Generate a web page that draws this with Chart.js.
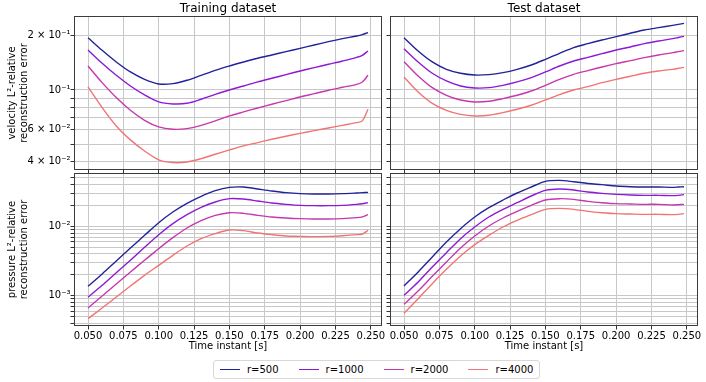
<!DOCTYPE html>
<html>
<head>
<meta charset="utf-8">
<script src="https://cdn.jsdelivr.net/npm/chart.js@4.4.1/dist/chart.umd.min.js"></script>
<style>
  html, body { margin: 0; padding: 0; background: #fff; }
  #fig { position: relative; width: 706px; height: 382px; font-family: 'DejaVu Sans', sans-serif; }
  #fig canvas { position: absolute; left: 0; top: 0; }
  #legend {
    position: absolute; left: 213px; top: 360px; height: 19px; box-sizing: border-box;
    padding: 0 6px; border: 1px solid #d8d8d8; border-radius: 3px; background: #fff;
    display: flex; align-items: center; font-size: 10px; color: #000;
  }
  .legend-item { display: flex; align-items: center; margin-right: 20px; }
  .legend-item:last-child { margin-right: 0; }
  .legend-line { width: 20px; height: 0; border-top: 1.5px solid; margin-right: 7px; }
</style>
</head>
<body>
<div id="fig">
  <canvas id="velTrain" width="706" height="382"></canvas>
  <canvas id="velTest" width="706" height="382"></canvas>
  <canvas id="presTrain" width="706" height="382"></canvas>
  <canvas id="presTest" width="706" height="382"></canvas>
  <div id="legend"></div>
</div>
<script>
// time instants [s]
const timeSteps = [0.05, 0.06, 0.07, 0.08, 0.09, 0.10, 0.11, 0.12, 0.13, 0.14, 0.15,
  0.16, 0.17, 0.18, 0.19, 0.20, 0.21, 0.22, 0.23, 0.24, 0.244, 0.248];

const seriesLabels = ['r=500', 'r=1000', 'r=2000', 'r=4000'];
const seriesColors = ['#22229a', '#8c1ad4', '#c737ad', '#f17474'];

// velocity error, training dataset
const velTrain500 = [0.1953, 0.1661, 0.1431, 0.1259, 0.1146, 0.1080, 0.1084, 0.1132, 0.1206, 0.1286, 0.1359,
  0.1431, 0.1500, 0.1565, 0.1633, 0.1704, 0.1778, 0.1855, 0.1928, 0.1995, 0.2030, 0.2083];
const velTrain1000 = [0.1668, 0.1406, 0.1206, 0.1052, 0.0938, 0.0858, 0.0836, 0.0843, 0.0888, 0.0946, 0.1000,
  0.1052, 0.1108, 0.1161, 0.1217, 0.1275, 0.1331, 0.1389, 0.1449, 0.1518, 0.1558, 0.1647];
const velTrain2000 = [0.1359, 0.1098, 0.0907, 0.0771, 0.0678, 0.0623, 0.0605, 0.0610, 0.0636, 0.0673, 0.0717,
  0.0755, 0.0794, 0.0833, 0.0872, 0.0914, 0.0954, 0.0996, 0.1035, 0.1075, 0.1108, 0.1206];
const velTrain4000 = [0.1039, 0.0798, 0.0631, 0.0528, 0.0458, 0.0409, 0.0395, 0.0398, 0.0415, 0.0439, 0.0464,
  0.0489, 0.0510, 0.0532, 0.0553, 0.0574, 0.0594, 0.0615, 0.0636, 0.0658, 0.0673, 0.0781];

// velocity error, test dataset
const velTest500 = [0.1953, 0.1647, 0.1431, 0.1302, 0.1238, 0.1211, 0.1217, 0.1248, 0.1302, 0.1377, 0.1480,
  0.1598, 0.1719, 0.1809, 0.1896, 0.1979, 0.2065, 0.2154, 0.2220, 0.2287, 0.2315, 0.2346];
const velTest1000 = [0.1696, 0.1431, 0.1238, 0.1122, 0.1052, 0.1026, 0.1030, 0.1061, 0.1108, 0.1171, 0.1259,
  0.1359, 0.1449, 0.1518, 0.1591, 0.1668, 0.1734, 0.1809, 0.1872, 0.1928, 0.1958, 0.1987];
const velTest2000 = [0.1437, 0.1196, 0.1030, 0.0934, 0.0880, 0.0858, 0.0865, 0.0895, 0.0934, 0.0987, 0.1061,
  0.1146, 0.1222, 0.1281, 0.1342, 0.1401, 0.1455, 0.1512, 0.1565, 0.1612, 0.1633, 0.1654];
const velTest4000 = [0.1181, 0.0975, 0.0843, 0.0771, 0.0732, 0.0717, 0.0723, 0.0748, 0.0781, 0.0822, 0.0880,
  0.0942, 0.1000, 0.1043, 0.1098, 0.1146, 0.1191, 0.1238, 0.1275, 0.1302, 0.1320, 0.1336];

// pressure error, training dataset
const presTrain500 = [1.363e-3, 2.053e-3, 3.162e-3, 4.870e-3, 7.418e-3, 1.129e-2, 1.610e-2, 2.146e-2, 2.708e-2, 3.269e-2, 3.650e-2,
  3.693e-2, 3.455e-2, 3.233e-2, 3.059e-2, 2.959e-2, 2.926e-2, 2.926e-2, 2.959e-2, 3.026e-2, 3.060e-2, 3.094e-2];
const presTrain1000 = [9.46e-4, 1.409e-3, 2.146e-3, 3.233e-3, 4.979e-3, 7.583e-3, 1.093e-2, 1.474e-2, 1.879e-2, 2.244e-2, 2.506e-2,
  2.479e-2, 2.319e-2, 2.170e-2, 2.077e-2, 2.009e-2, 1.987e-2, 1.987e-2, 2.009e-2, 2.077e-2, 2.120e-2, 2.194e-2];
const presTrain2000 = [6.64e-4, 9.89e-4, 1.474e-3, 2.194e-3, 3.233e-3, 4.764e-3, 6.864e-3, 9.46e-3, 1.207e-2, 1.441e-2, 1.574e-2,
  1.540e-2, 1.441e-2, 1.363e-2, 1.319e-2, 1.290e-2, 1.276e-2, 1.276e-2, 1.290e-2, 1.334e-2, 1.370e-2, 1.474e-2];
const presTrain4000 = [4.66e-4, 6.64e-4, 9.57e-4, 1.378e-3, 1.965e-3, 2.738e-3, 3.817e-3, 5.204e-3, 6.64e-3, 7.84e-3, 8.86e-3,
  8.66e-3, 8.01e-3, 7.58e-3, 7.26e-3, 7.17e-3, 7.10e-3, 7.17e-3, 7.33e-3, 7.58e-3, 7.75e-3, 8.76e-3];

// pressure error, test dataset
const presTest500 = [1.378e-3, 2.194e-3, 3.612e-3, 5.943e-3, 9.25e-3, 1.363e-2, 1.858e-2, 2.398e-2, 3.026e-2, 3.693e-2, 4.457e-2,
  4.607e-2, 4.400e-2, 4.150e-2, 3.990e-2, 3.816e-2, 3.733e-2, 3.693e-2, 3.693e-2, 3.652e-2, 3.690e-2, 3.733e-2];
const presTest1000 = [1.011e-3, 1.574e-3, 2.591e-3, 4.171e-3, 6.64e-3, 9.78e-3, 1.363e-2, 1.759e-2, 2.194e-2, 2.738e-2, 3.305e-2,
  3.455e-2, 3.342e-2, 3.128e-2, 2.992e-2, 2.894e-2, 2.831e-2, 2.800e-2, 2.800e-2, 2.769e-2, 2.800e-2, 2.862e-2];
const presTest2000 = [7.50e-4, 1.168e-3, 1.900e-3, 3.059e-3, 4.870e-3, 7.255e-3, 1.011e-2, 1.319e-2, 1.646e-2, 2.009e-2, 2.398e-2,
  2.506e-2, 2.451e-2, 2.294e-2, 2.194e-2, 2.123e-2, 2.100e-2, 2.077e-2, 2.077e-2, 2.031e-2, 2.050e-2, 2.077e-2];
const presTest4000 = [5.56e-4, 9.05e-4, 1.490e-3, 2.398e-3, 3.733e-3, 5.44e-3, 7.418e-3, 9.78e-3, 1.221e-2, 1.474e-2, 1.759e-2,
  1.818e-2, 1.759e-2, 1.646e-2, 1.574e-2, 1.523e-2, 1.506e-2, 1.490e-2, 1.490e-2, 1.474e-2, 1.490e-2, 1.523e-2];

// axis ticks
const xTicks = [0.05, 0.075, 0.1, 0.125, 0.15, 0.175, 0.2, 0.225, 0.25];
const velTicks = [0.04, 0.05, 0.06, 0.07, 0.08, 0.09, 0.1, 0.2];
const velTickLabels = ['4 × 10⁻²', '', '6 × 10⁻²', '', '', '', '10⁻¹', '2 × 10⁻¹'];
const presTicks = [4e-4, 5e-4, 6e-4, 7e-4, 8e-4, 9e-4, 1e-3, 2e-3, 3e-3, 4e-3, 5e-3, 6e-3, 7e-3, 8e-3, 9e-3,
  1e-2, 2e-2, 3e-2, 4e-2, 5e-2];
const presTickLabels = ['', '', '', '', '', '', '10⁻³', '', '', '', '', '', '', '', '', '10⁻²', '', '', '', ''];

const W = 706, H = 382;
Chart.defaults.font.family = "'DejaVu Sans', sans-serif";
Chart.defaults.color = '#000';

// matplotlib style frame round each panel
const framePlugin = {
  id: 'frame',
  afterDatasetsDraw(chart) {
    const a = chart.chartArea;
    const ctx = chart.ctx;
    ctx.save();
    ctx.strokeStyle = '#3c3c3c';
    ctx.lineWidth = 1;
    const l = Math.round(a.left), t = Math.round(a.top);
    ctx.strokeRect(l + 0.5, t + 0.5, Math.round(a.right) - l - 1, Math.round(a.bottom) - t - 1);
    ctx.restore();
  }
};

const gridStyle = { color: '#c8c8c8', lineWidth: 1, tickColor: '#333', tickLength: 3.5 };

function makePanel(id, cfg) {
  const yWidth = cfg.showY ? cfg.area.left : 4;
  const xHeight = cfg.showX ? 26 : 4;
  const titleH = cfg.title ? 12 * 1.2 + 2 : 0;

  const datasets = cfg.series.map((vals, i) => ({
    label: seriesLabels[i],
    data: timeSteps.map((t, j) => ({ x: t, y: vals[j] })),
    borderColor: seriesColors[i],
    borderWidth: 1.4,
    pointRadius: 0,
    tension: 0.3,
    fill: false
  }));

  return new Chart(document.getElementById(id), {
    type: 'line',
    data: { datasets },
    plugins: [framePlugin],
    options: {
      responsive: false,
      animation: false,
      devicePixelRatio: 1,
      layout: {
        padding: {
          left: cfg.area.left - yWidth,
          right: W - cfg.area.right,
          top: cfg.area.top - titleH,
          bottom: H - cfg.area.bottom - xHeight
        }
      },
      plugins: {
        legend: { display: false },
        tooltip: { enabled: false },
        title: {
          display: !!cfg.title,
          text: cfg.title,
          fullSize: false,
          color: '#000',
          font: { size: 12, weight: 'normal' },
          padding: { top: 2, bottom: 0 }
        }
      },
      scales: {
        x: {
          type: 'linear',
          min: 0.0401,
          max: 0.2579,
          afterBuildTicks: (s) => { s.ticks = xTicks.map(v => ({ value: v })); },
          afterFit: (s) => { s.height = xHeight; },
          grid: gridStyle,
          border: { display: false },
          ticks: {
            display: cfg.showX,
            autoSkip: false,
            maxRotation: 0,
            padding: 1,
            font: { size: 10 },
            callback: (v) => Number(v).toFixed(3)
          },
          title: {
            display: cfg.showX,
            text: 'Time instant [s]',
            font: { size: 10 },
            padding: { top: 0, bottom: 0 }
          }
        },
        y: {
          type: 'logarithmic',
          min: cfg.yMin,
          max: cfg.yMax,
          afterBuildTicks: (s) => { s.ticks = cfg.yTicks.map(v => ({ value: v })); },
          afterFit: (s) => { s.width = yWidth; },
          grid: gridStyle,
          border: { display: false },
          ticks: {
            display: cfg.showY,
            autoSkip: false,
            padding: 0,
            font: { size: 10 },
            callback: (v, i) => cfg.yLabels[i]
          },
          title: {
            display: cfg.showY,
            text: cfg.yTitle,
            font: { size: 10 },
            padding: { top: 6, bottom: 0 }
          }
        }
      }
    }
  });
}

const leftArea = { left: 74, right: 382 };
const rightArea = { left: 390, right: 698 };
const topRow = { top: 16, bottom: 170 };
const bottomRow = { top: 173, bottom: 326 };

makePanel('velTrain', {
  series: [velTrain500, velTrain1000, velTrain2000, velTrain4000],
  area: { ...leftArea, ...topRow },
  title: 'Training dataset',
  showY: true, showX: false,
  yMin: 0.0359, yMax: 0.2577,
  yTicks: velTicks, yLabels: velTickLabels,
  yTitle: ['velocity L²-relative', 'reconstruction error']
});
makePanel('velTest', {
  series: [velTest500, velTest1000, velTest2000, velTest4000],
  area: { ...rightArea, ...topRow },
  title: 'Test dataset',
  showY: false, showX: false,
  yMin: 0.0359, yMax: 0.2577,
  yTicks: velTicks, yLabels: velTickLabels
});
makePanel('presTrain', {
  series: [presTrain500, presTrain1000, presTrain2000, presTrain4000],
  area: { ...leftArea, ...bottomRow },
  showY: true, showX: true,
  yMin: 3.65e-4, yMax: 0.0588,
  yTicks: presTicks, yLabels: presTickLabels,
  yTitle: ['pressure L²-relative', 'reconstruction error']
});
makePanel('presTest', {
  series: [presTest500, presTest1000, presTest2000, presTest4000],
  area: { ...rightArea, ...bottomRow },
  showY: false, showX: true,
  yMin: 3.65e-4, yMax: 0.0588,
  yTicks: presTicks, yLabels: presTickLabels
});

// shared legend under the panels
const legendContainer = document.getElementById('legend');
seriesLabels.forEach((label, i) => {
  const item = document.createElement('div');
  item.className = 'legend-item';
  const line = document.createElement('div');
  line.className = 'legend-line';
  line.style.borderColor = seriesColors[i];
  item.appendChild(line);
  const text = document.createElement('div');
  text.textContent = label;
  item.appendChild(text);
  legendContainer.appendChild(item);
});
</script>
</body>
</html>
